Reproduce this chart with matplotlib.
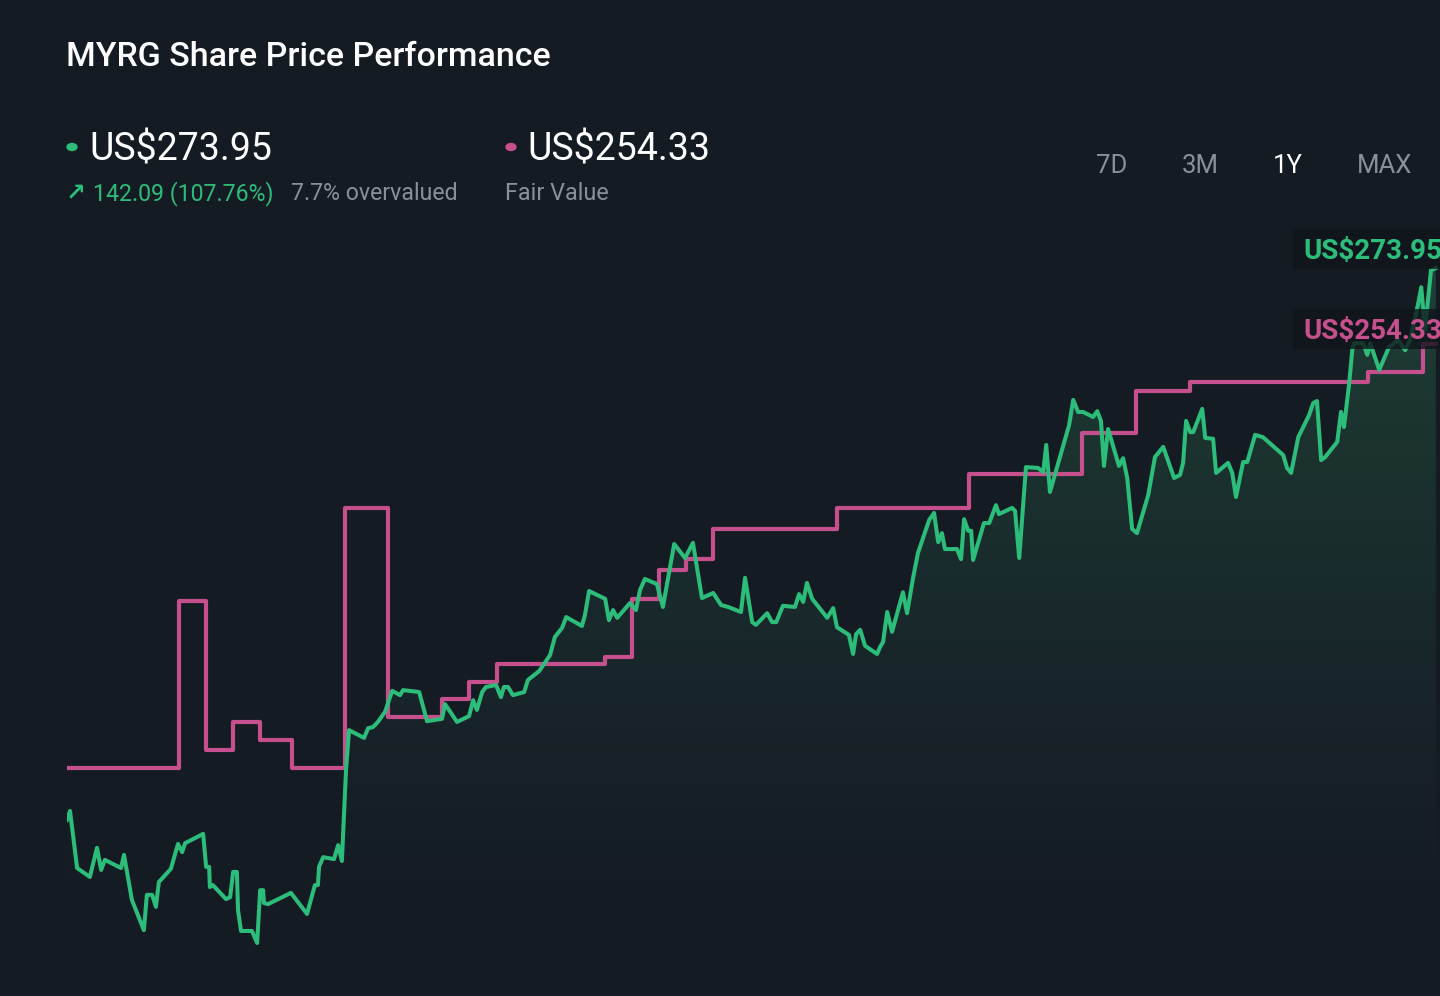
import numpy as np
import matplotlib
matplotlib.use("Agg")
import matplotlib.pyplot as plt
from matplotlib.colors import LinearSegmentedColormap
from matplotlib.patches import Rectangle

# share price, 1Y (days since start, US$)
price_day = [0.0, 0.8, 2.7, 6.1, 8.0, 9.1, 10.1, 14.4, 15.2, 17.3, 20.5, 21.3, 22.7, 23.7,
             24.5, 27.7, 29.6, 30.7, 31.5, 36.3, 37.1, 37.9, 38.1, 38.9, 42.4, 43.5, 44.3,
             45.3, 45.6, 46.4, 49.3, 50.7, 51.5, 52.3, 52.5, 53.6, 59.7, 64.0, 66.1, 66.9,
             67.2, 68.3, 71.2, 72.3, 73.3, 74.4, 75.2, 79.2, 80.3, 81.6, 82.9, 84.8, 86.7,
             88.8, 89.6, 93.9, 96.0, 100.0, 100.8, 102.4, 104.0, 107.2, 108.3, 109.3, 110.7,
             111.7, 114.4, 115.7, 116.5, 117.6, 118.9, 121.9, 122.9, 125.9, 128.8, 130.1,
             132.0, 133.1, 137.3, 138.1, 139.2, 143.5, 144.5, 145.6, 146.7, 150.1, 151.7,
             152.8, 154.1, 157.3, 158.9, 161.9, 164.8, 166.9, 169.3, 172.3, 174.4, 176.3,
             179.7, 180.8, 182.7, 183.7, 186.7, 188.0, 189.1, 190.9, 194.1, 195.2, 196.3,
             197.3, 198.7, 202.7, 204.3, 205.3, 208.5, 209.6, 210.4, 211.5, 212.8, 216.0,
             216.8, 217.6, 218.7, 220.0, 222.9, 224.0, 225.6, 226.9, 229.9, 231.2, 232.3,
             233.3, 234.1, 237.3, 238.4, 239.2, 240.3, 241.1, 241.6, 244.5, 245.9, 247.7,
             248.5, 252.0, 252.8, 253.9, 255.7, 258.9, 260.3, 261.1, 262.1, 264.0, 267.2,
             268.3, 269.6, 270.9, 273.6, 274.7, 275.7, 276.5, 277.6, 280.5, 281.6, 282.7,
             284.0, 285.3, 288.3, 290.1, 292.3, 295.2, 296.8, 297.6, 298.4, 299.5, 300.3,
             302.7, 303.5, 305.6, 306.4, 309.6, 310.7, 311.7, 313.6, 314.7, 316.8, 318.9,
             324.3, 325.3, 326.4, 328.3, 331.2, 332.3, 333.3, 334.4, 335.5, 338.7, 339.7,
             340.5, 341.9, 342.7, 343.2, 345.6, 346.7, 347.5, 349.9, 352.5, 354.9, 356.8,
             358.1, 360.3, 361.1, 362.1, 363.7, 365.0]
price = [131.9, 134.2, 119.5, 117.2, 124.7, 119.0, 121.6, 119.5, 122.9, 111.3, 103.5, 112.6,
         112.6, 109.5, 115.9, 119.3, 125.7, 123.6, 125.9, 128.3, 119.8, 119.8, 114.6, 115.1,
         111.5, 112.0, 118.5, 118.5, 108.7, 103.3, 103.3, 100.2, 113.8, 113.8, 110.5, 110.2,
         113.1, 107.7, 115.1, 115.1, 119.8, 122.3, 121.8, 125.4, 121.3, 144.7, 155.0, 153.0,
         155.5, 155.8, 157.1, 159.7, 165.1, 164.0, 165.3, 164.8, 157.3, 157.9, 161.7, 159.4,
         157.1, 158.6, 162.7, 160.2, 164.8, 166.1, 166.6, 163.5, 166.1, 166.1, 164.0, 164.8,
         167.9, 170.2, 174.3, 179.0, 181.3, 184.1, 181.8, 184.6, 190.8, 188.8, 183.3, 185.9,
         183.9, 187.7, 185.9, 191.1, 193.9, 192.6, 186.7, 202.9, 199.3, 203.2, 189.0, 190.3,
         187.2, 186.7, 185.4, 194.2, 182.8, 182.1, 185.1, 182.8, 182.8, 187.0, 186.7, 190.0,
         188.0, 192.9, 188.8, 183.9, 186.4, 181.5, 179.5, 174.6, 179.7, 180.8, 176.7, 174.6,
         176.4, 177.7, 185.4, 180.3, 190.5, 185.1, 194.2, 200.6, 209.1, 210.9, 203.4, 205.7,
         201.6, 201.6, 199.0, 209.3, 206.3, 206.3, 198.8, 208.3, 208.3, 212.9, 210.6, 212.2,
         211.4, 199.3, 222.7, 222.5, 221.4, 228.4, 216.3, 222.7, 233.5, 240.0, 236.9, 236.9,
         235.6, 237.1, 234.6, 223.0, 232.5, 223.0, 225.0, 219.9, 206.8, 205.7, 215.5, 225.3,
         227.9, 219.9, 220.7, 223.8, 234.6, 231.7, 231.7, 237.7, 230.2, 230.0, 221.2, 223.8,
         221.2, 215.0, 224.0, 224.0, 231.0, 230.4, 225.8, 222.5, 221.2, 230.4, 236.1, 239.2,
         239.7, 224.5, 225.3, 229.2, 236.9, 233.0, 244.4, 252.8, 254.6, 254.6, 251.6, 254.6,
         247.7, 253.6, 255.4, 252.8, 255.4, 264.9, 269.0, 258.0, 273.4, 273.95]

# fair value estimate (step changes)
fv_day = [0.0, 29.9, 37.1, 44.3, 51.5, 60.0, 74.1, 85.6, 100.0, 107.2, 114.7, 143.5, 150.7,
          157.9, 165.1, 172.3, 205.3, 240.5, 270.7, 285.1, 299.5, 346.9, 361.6, 365.0]
fair_value = [145.3, 188.2, 149.9, 157.1, 152.5, 145.3, 212.2, 158.4, 163.0, 167.4, 172.0,
              173.8, 188.8, 196.2, 199.0, 206.8, 212.2, 220.9, 231.5, 242.3, 244.6, 247.2,
              254.33, 254.33]

last_price = "US$273.95"
last_fv = "US$254.33"
change = "142.09 (107.76%)"
valuation = "7.7% overvalued"
periods = ["7D", "3M", "1Y", "MAX"]

bg = "#151b23"
green = "#2dbd7b"
pink = "#c64f8e"
grey = "#8a9099"

plt.rcParams["font.family"] = ["Roboto", "DejaVu Sans"]

W, H = 1440, 996
fig = plt.figure(figsize=(W / 100, H / 100), dpi=100, facecolor=bg)


def fx(x):
    return x / W


def fy(y):
    return 1 - y / H


ax = fig.add_axes([fx(67), 0, fx(1373), 786 / H])
ax.set_facecolor(bg)
ymin, ymax = 86.56, 288.88
ax.set_xlim(0, 366.1)
ax.set_ylim(ymin, ymax)
ax.axis("off")

# gradient fill under the price line (fades out towards the bottom)
poly = ax.fill_between(price_day, price, ymin, color="none", lw=0)
grad = np.linspace(0, 1, 256).reshape(-1, 1)
cmap = LinearSegmentedColormap.from_list(
    "fill", [(0, bg), (0.12, bg), (0.4, "#18252a"), (0.75, "#1c3530"), (1, "#21453c")])
im = ax.imshow(grad, extent=[0, 366.1, ymin, ymax], origin="lower", aspect="auto",
               cmap=cmap, zorder=1)
im.set_clip_path(poly.get_paths()[0], transform=ax.transData)

ax.plot(price_day, price, color=green, lw=2.9, zorder=3)
ax.plot(fv_day, fair_value, color=pink, lw=3.0, drawstyle="steps-post", zorder=2)

# value labels at the right edge
for y, txt, col in [(249, last_price, green), (329, last_fv, pink)]:
    fig.patches.append(Rectangle((fx(1293), fy(y + 20)), fx(160), 40 / H,
                                 transform=fig.transFigure, facecolor="#10151b",
                                 alpha=0.8, edgecolor="none", zorder=5))
    fig.text(fx(1303), fy(y + 2), txt, color=col, fontsize=20, fontweight="bold",
             va="center", ha="left", zorder=6)

# header
fig.text(fx(66), fy(57), "MYRG Share Price Performance", color="white", fontsize=24.5,
         fontweight="medium", va="center", ha="left")

fig.patches.append(plt.Circle((fx(72), fy(147)), 5 / W, transform=fig.transFigure,
                              color=green))
fig.text(fx(89), fy(150), last_price, color="white", fontsize=27, va="center", ha="left")
fig.text(fx(66), fy(193), "\u2197", color=green, fontsize=17, fontweight="bold",
         va="center", ha="left", family=["DejaVu Sans"])
fig.text(fx(93), fy(194), change, color=green, fontsize=16.7, va="center", ha="left")
fig.text(fx(291), fy(194), valuation, color=grey, fontsize=16.7, va="center", ha="left")

fig.patches.append(plt.Circle((fx(511), fy(147)), 5 / W, transform=fig.transFigure,
                              color=pink))
fig.text(fx(527), fy(150), last_fv, color="white", fontsize=27, va="center", ha="left")
fig.text(fx(505), fy(194), "Fair Value", color=grey, fontsize=16.8, va="center", ha="left")

for x, p in zip([1112, 1200, 1288, 1385], periods):
    fig.text(fx(x), fy(166), p, color="white" if p == "1Y" else grey, fontsize=18.5,
             va="center", ha="center")

fig.savefig("out.png", dpi=100, facecolor=bg)
